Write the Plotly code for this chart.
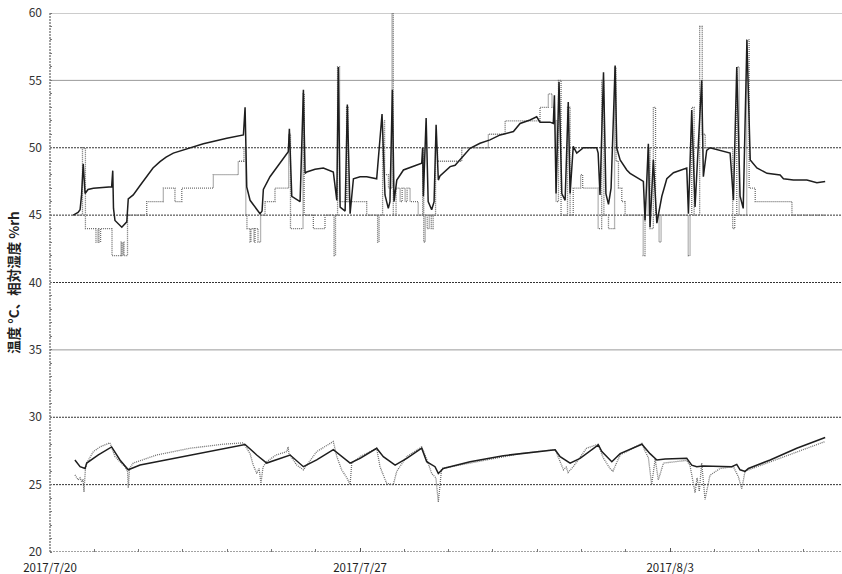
import pandas as pd
import plotly.graph_objects as go

START = pd.Timestamp("2017-07-20")

# Humidity sensor 1 (solid) : hours since 2017-07-20 00:00, %rh
h1_hours = [12.6, 15.2, 16.3, 17.1, 18.0, 19.0, 20.6, 23.5, 33.4, 34.0, 34.4, 35.2, 38.9, 41.6, 42.4,
            45.1, 48.8, 52.4, 55.8, 59.6, 62.9, 66.8, 72.2, 83.1, 95.8, 104.8, 105.7, 106.6, 108.4,
            112.0, 113.8, 114.9, 115.6, 119.2, 124.6, 129.1, 129.7, 131.0, 135.5, 137.3, 138.2,
            139.1, 143.6, 148.1, 153.5, 155.4, 156.2, 157.2, 159.9, 161.1, 162.6, 164.4, 168.0,
            171.6, 177.0, 179.9, 181.5, 183.3, 184.2, 185.5, 186.4, 187.9, 191.5, 196.9, 201.4,
            201.9, 202.3, 203.8, 204.9, 206.8, 208.1, 209.2, 210.4, 211.3, 215.0, 216.8, 219.5,
            222.2, 227.6, 233.0, 238.4, 243.9, 251.1, 254.7, 260.1, 263.7, 265.5, 270.9, 272.7,
            273.3, 274.2, 275.8, 277.3, 279.1, 280.8, 281.8, 283.5, 285.4, 289.0, 296.2, 297.0,
            298.0, 299.9, 301.2, 302.6, 304.0, 306.2, 307.1, 308.9, 312.5, 314.3, 321.5, 322.4,
            324.2, 325.1, 326.9, 328.8, 331.5, 334.2, 337.8, 345.0, 345.9, 347.7, 349.5, 353.1,
            354.0, 355.8, 357.6, 363.1, 368.5, 370.3, 372.1, 373.9, 375.6, 377.6, 379.4, 383.0,
            388.5, 395.6, 397.4, 402.8, 410.1, 415.5, 420.0]
h1_vals = [45.0, 45.2, 45.4, 46.5, 48.8, 46.6, 46.9, 47.0, 47.1, 48.3, 45.5, 44.6, 44.1, 44.5, 46.2,
           46.5, 47.2, 47.85, 48.5, 48.97, 49.3, 49.6, 49.83, 50.3, 50.7, 50.95, 53.0, 47.1, 46.1,
           45.4, 45.1, 45.3, 46.9, 47.85, 48.85, 49.7, 51.4, 46.4, 46.0, 54.3, 48.1,
           48.2, 48.4, 48.5, 48.2, 46.1, 56.0, 45.6, 45.3, 53.2, 45.1, 47.7, 47.85,
           47.85, 47.7, 52.5, 46.5, 45.5, 46.0, 54.3, 46.0, 47.6, 48.35, 48.6, 48.85,
           50.0, 46.4, 52.2, 46.0, 45.4, 46.0, 51.7, 47.6, 47.9, 48.35, 48.6, 48.7,
           49.1, 49.96, 50.33, 50.58, 50.95, 51.2, 51.8, 52.06, 52.3, 51.9, 51.9, 51.8,
           53.9, 46.6, 54.9, 46.6, 46.1, 53.4, 46.6, 50.1, 49.6, 50.0, 50.0, 49.6,
           46.5, 55.6, 46.6, 45.8, 47.0, 56.1, 49.96, 49.1, 48.35, 48.1, 47.5, 44.6,
           50.3, 44.1, 49.1, 44.4, 46.4, 47.7, 48.15, 48.5, 45.1, 52.8, 45.6, 55.0,
           47.85, 49.8, 50.0, 49.8, 49.6, 46.1, 56.0, 46.4, 45.5, 58.0, 49.1, 48.5,
           48.1, 47.98, 47.7, 47.6, 47.6, 47.4, 47.5]

# Humidity sensor 2 (dotted, integer steps)
h2_hours = [12.6, 17.6, 19.2, 24.9, 26.0, 26.5, 27.4, 33.6, 38.5, 39.0, 39.6, 40.1, 42.0, 52.4, 61.4,
            67.7, 71.4, 88.5, 102.0, 105.1, 106.1, 106.7, 108.4, 108.9, 110.5, 111.1, 112.7, 114.1,
            116.5, 121.9, 129.3, 130.3, 137.1, 137.7, 142.7, 149.0, 153.9, 154.7, 155.8, 156.9,
            160.7, 161.5, 171.6, 177.5, 178.3, 180.2, 181.3, 183.4, 185.3, 186.0, 187.5, 189.7,
            190.8, 192.4, 193.5, 195.1, 199.5, 201.9, 202.5, 203.3, 204.4, 205.5, 206.6, 207.6,
            208.9, 210.0, 223.1, 237.5, 246.6, 265.5, 270.0, 272.0, 273.1, 274.2, 275.5, 276.9,
            280.4, 281.8, 283.5, 287.5, 288.6, 297.0, 298.9, 300.1, 302.6, 305.9, 306.7, 308.0,
            309.8, 311.6, 321.4, 322.4, 324.1, 325.1, 326.9, 328.1, 330.0, 331.1, 345.8, 346.8,
            347.7, 349.0, 352.0, 353.4, 355.0, 369.9, 371.0, 372.1, 373.4, 377.5, 378.8, 382.1,
            402.0, 420.0]
h2_vals = [45, 50, 44, 43, 44, 43, 44, 42, 43, 42, 43, 42, 45, 46, 47,
           46, 47, 48, 49, 50, 45, 44, 43, 44, 43, 44, 43, 45,
           46, 47, 51, 44, 54, 45, 44, 45, 42, 45, 56, 46,
           53, 46, 45, 43, 45, 52, 48, 47, 60, 45, 47, 46,
           47, 46, 47, 46, 45, 50, 43, 45, 44, 45, 44, 45,
           50, 49, 50, 51, 52, 53, 54, 53, 52, 46, 55, 45,
           53, 45, 47, 48, 47, 44, 55, 45, 44, 56, 49, 47,
           46, 45, 42, 45, 50, 44, 53, 45, 43, 45, 42, 45,
           53, 45, 59, 51, 50, 44, 45, 56, 45, 58, 47, 46,
           45, 45]

# Temperature sensor 1 (solid), °C
t1_hours = [13.5, 16.3, 19.0, 19.9, 26.2, 33.4, 37.9, 42.4, 48.8, 66.8, 84.9, 105.7, 112.0, 117.4,
            130.1, 137.3, 144.5, 153.5, 162.6, 168.0, 177.0, 180.6, 187.0, 193.3, 201.4, 204.1,
            208.6, 210.4, 213.1, 227.6, 245.6, 263.7, 273.7, 276.4, 281.8, 287.2, 297.1, 299.0,
            304.4, 308.9, 320.7, 325.1, 328.8, 333.3, 345.0, 347.7, 350.4, 354.0, 369.4, 372.1,
            373.9, 376.6, 378.4, 390.2, 404.6, 420.0]
t1_vals = [26.83, 26.33, 26.2, 26.6, 27.2, 27.8, 26.83, 26.1, 26.45, 26.95, 27.4, 27.98, 27.2, 26.6,
           27.2, 26.33, 26.83, 27.6, 26.6, 26.95, 27.7, 27.08, 26.45, 26.95, 27.7, 26.7,
           26.33, 25.83, 26.2, 26.7, 27.15, 27.45, 27.58, 27.08, 26.6, 26.95, 27.95, 27.45,
           26.7, 27.3, 28.0, 27.3, 26.83, 26.9, 26.95, 26.45, 26.33, 26.38, 26.33, 26.5,
           26.1, 25.98, 26.2, 26.83, 27.7, 28.5]

# Temperature sensor 2 (dotted), °C
t2_hours = [13.5, 15.3, 16.3, 17.2, 17.9, 18.4, 19.2, 19.9, 23.5, 27.1, 32.5, 35.2, 40.6, 42.0, 42.4,
            43.1, 45.1, 57.8, 75.9, 93.9, 104.8, 108.4, 110.0, 112.0, 113.3, 114.3, 115.4, 117.4,
            122.5, 128.3, 129.0, 129.5, 133.7, 137.3, 144.5, 153.5, 155.4, 158.0, 160.9, 162.6,
            163.5, 168.0, 177.0, 178.8, 182.4, 186.0, 187.9, 193.3, 201.4, 204.1, 206.8, 209.1,
            210.4, 212.2, 227.6, 254.7, 273.7, 275.5, 278.2, 279.7, 280.7, 283.5, 290.7, 297.0,
            299.7, 303.4, 305.0, 308.9, 320.7, 322.4, 324.2, 326.0, 327.9, 329.6, 332.4, 345.0,
            346.8, 349.5, 350.6, 351.8, 353.1, 354.9, 357.6, 363.1, 370.3, 373.0, 374.8, 376.6,
            390.2, 404.6, 420.0]
t2_vals = [25.72, 25.35, 25.5, 25.2, 25.4, 24.46, 26.2, 26.6, 27.45, 27.8, 28.1, 27.08, 26.33, 26.0, 24.75,
           26.2, 26.6, 27.2, 27.7, 28.0, 28.1, 27.3, 26.5, 25.83, 26.2, 25.1, 26.3, 26.7,
           27.2, 27.45, 27.8, 27.3, 26.45, 26.1, 27.45, 28.2, 27.08, 26.1, 25.5, 25.0,
           26.6, 27.08, 27.7, 26.33, 25.1, 25.0, 26.0, 27.08, 27.8, 26.9, 25.83, 25.5,
           23.7, 26.2, 26.6, 27.3, 27.6, 27.0, 26.1, 26.3, 25.9, 26.33, 27.7, 28.0,
           27.0, 26.2, 26.0, 27.2, 28.06, 27.5, 27.0, 25.0, 26.9, 25.35, 26.6, 26.8,
           26.4, 24.4, 25.5, 24.5, 26.6, 23.9, 25.7, 26.2, 26.33, 25.57, 24.7, 26.0,
           26.7, 27.45, 28.2]

y_ticks = [20, 25, 30, 35, 40, 45, 50, 55, 60]
solid_grid = [35, 55, 60]
dotted_grid = [25, 30, 40, 45, 50]
x_tick_dates = ["2017-07-20", "2017-07-27", "2017-08-03"]
x_tick_labels = ["2017/7/20", "2017/7/27", "2017/8/3"]
y_title = "温度 °C、相対湿度 %rh"


def to_time(hours):
    return [START + pd.Timedelta(hours=h) for h in hours]


fig = go.Figure()
DARK = "#1e1e1e"
GRAY = "#6e6e6e"
FINE_DOT = "1px,1px"

fig.add_trace(go.Scatter(x=to_time(t2_hours), y=t2_vals, mode="lines",
                         line=dict(color=GRAY, width=1.3, dash=FINE_DOT), showlegend=False))
fig.add_trace(go.Scatter(x=to_time(t1_hours), y=t1_vals, mode="lines",
                         line=dict(color=DARK, width=1.5), showlegend=False))
fig.add_trace(go.Scatter(x=to_time(h2_hours), y=h2_vals, mode="lines",
                         line=dict(color=GRAY, width=1.3, dash=FINE_DOT, shape="hv"), showlegend=False))
fig.add_trace(go.Scatter(x=to_time(h1_hours), y=h1_vals, mode="lines",
                         line=dict(color=DARK, width=1.5), showlegend=False))

shapes = []
for v in solid_grid:
    shapes.append(dict(type="line", xref="paper", yref="y", x0=0, x1=1, y0=v, y1=v,
                       line=dict(color="#9a9a9a", width=1), layer="below"))
for v in dotted_grid:
    shapes.append(dict(type="line", xref="paper", yref="y", x0=0, x1=1, y0=v, y1=v,
                       line=dict(color="#333333", width=1, dash="2px,1px"), layer="below"))
# dotted axis lines
shapes.append(dict(type="line", xref="paper", yref="y", x0=0, x1=1, y0=y_ticks[0], y1=y_ticks[0],
                   line=dict(color="#444444", width=1, dash="2px,1px"), layer="below"))
shapes.append(dict(type="line", xref="paper", yref="paper", x0=0, x1=0, y0=0, y1=1,
                   line=dict(color="#444444", width=1, dash="2px,1px"), layer="below"))

x_end = START + pd.Timedelta(days=17.88)

fig.update_layout(
    width=842, height=574,
    margin=dict(l=50, r=0, t=13, b=22),
    paper_bgcolor="white", plot_bgcolor="white",
    font=dict(family="Noto Sans CJK JP, Noto Sans, sans-serif", size=12, color="#333333"),
    shapes=shapes,
    xaxis=dict(range=[START, x_end], tickmode="array", tickvals=x_tick_dates, ticktext=x_tick_labels,
               showgrid=False, zeroline=False, showline=False,
               ticks="inside", ticklen=4, tickcolor="#555",
               minor=dict(dtick=86400000, tick0="2017-07-20", ticks="inside", ticklen=3, tickcolor="#777"),
               tickfont=dict(size=11.5, color="#222"), ticklabelstandoff=7),
    yaxis=dict(range=[20, 60], tickvals=y_ticks, showgrid=False, zeroline=False, showline=False,
               ticks="", tickfont=dict(size=12, color="#333"), ticklabelstandoff=7,
               minor=dict(dtick=1, ticks="inside", ticklen=2, tickcolor="#777"),
               title=dict(text="<b>" + y_title + "</b>", font=dict(size=13.5, color="#222"), standoff=5)),
)

fig.write_html("out.html")
